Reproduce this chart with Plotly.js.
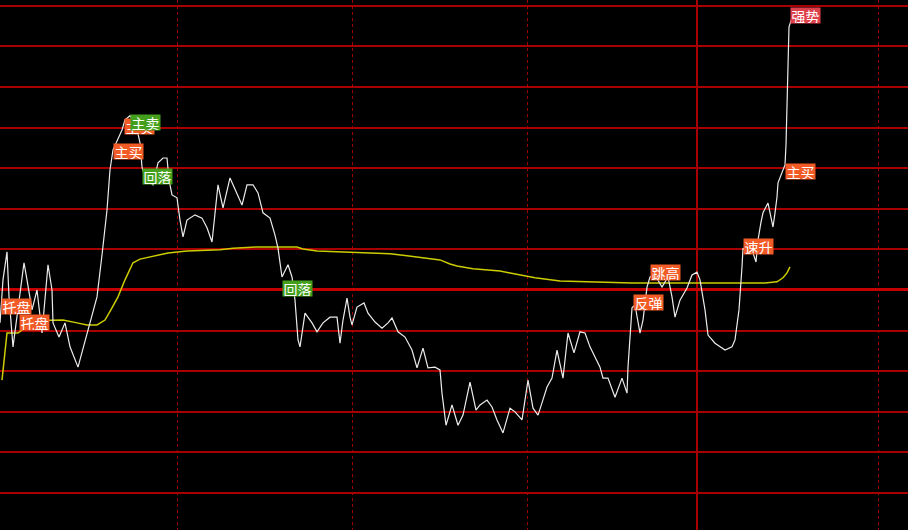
<!DOCTYPE html>
<html>
<head>
<meta charset="utf-8">
<script src="https://cdn.plot.ly/plotly-3.0.1.min.js"></script>
<style>
  html, body { margin: 0; padding: 0; background: #000; overflow: hidden; }
  #chart { width: 908px; height: 530px; }
</style>
</head>
<body>
<div id="chart"></div>
<script>
// ---- price line (time slot, % change vs previous close) ----
const priceT = [0,3,7,9,13,17,20,24,27,32,37,42,48,52,53,59,65,70,78,87,97,102,107,110,113,122,125,130,136,140,142,145,153,158,163,167,169,172,177,180,183,187,195,202,207,212,215,218,223,230,242,247,253,258,263,270,275,278,282,285,288,292,295,298,300,305,312,317,323,330,337,340,343,347,350,352,357,364,368,375,382,388,392,398,405,412,417,423,428,435,440,442,446,452,458,463,470,476,480,487,492,497,503,510,515,522,528,533,538,542,547,552,557,563,568,574,580,585,590,600,603,608,615,622,627,628,632,635,640,643,647,650,655,662,665,668,672,675,680,687,692,697,700,705,708,715,725,732,735,739,742,743,748,753,756,758,761,763,768,770,773,775,777,778,782,785,786,787,788,789,792];
const priceChg = [-0.81,0.25,0.94,-0.17,-1.40,-0.67,-0.17,0.67,0.25,-0.49,0.00,-1.06,0.62,0.00,-0.81,-1.16,-0.81,-1.40,-1.90,-1.06,-0.17,0.86,1.97,2.96,3.45,3.94,4.19,4.29,4.06,3.62,3.03,2.76,2.59,3.13,3.25,3.25,2.71,2.34,2.27,1.72,1.31,1.72,1.85,1.77,1.53,1.18,1.90,2.59,2.02,2.76,2.09,2.59,2.59,2.39,1.90,1.77,1.35,1.03,0.32,0.49,0.62,0.32,-0.25,-1.23,-1.40,-0.57,-0.81,-1.03,-0.81,-0.67,-0.67,-1.31,-0.74,-0.20,-0.67,-0.86,-0.42,-0.32,-0.57,-0.79,-0.94,-0.81,-0.69,-1.03,-1.16,-1.48,-1.92,-1.43,-1.92,-1.90,-1.97,-2.54,-3.33,-2.83,-3.33,-3.08,-2.27,-2.96,-2.83,-2.71,-2.88,-3.20,-3.52,-2.91,-3.00,-3.20,-2.22,-2.91,-3.08,-2.78,-2.39,-2.17,-1.48,-2.17,-1.06,-1.55,-1.03,-1.06,-1.40,-1.90,-2.17,-2.17,-2.64,-2.17,-2.54,-1.90,-0.44,-0.37,-1.06,-0.74,0.07,0.32,0.37,0.07,0.20,0.32,-0.17,-0.67,-0.25,0.05,0.37,0.44,0.25,-0.49,-1.11,-1.31,-1.48,-1.40,-1.23,-0.49,0.57,1.03,0.94,0.91,0.69,1.23,1.67,1.90,2.14,1.90,1.55,1.90,2.29,2.64,2.88,3.08,3.57,4.51,5.49,6.48,6.70];

// ---- average price line ----
const avgT = [2,5,7,18,22,23,47,63,77,87,97,105,112,118,125,133,140,150,157,168,187,220,233,257,297,303,317,340,357,390,407,427,440,450,457,473,500,510,535,560,602,632,700,765,777,783,787,790];
const avgChg = [-2.22,-1.48,-1.06,-1.06,-0.99,-0.76,-0.74,-0.74,-0.81,-0.86,-0.86,-0.74,-0.44,-0.17,0.25,0.67,0.76,0.81,0.86,0.91,0.96,0.99,1.03,1.06,1.06,1.01,0.96,0.94,0.91,0.89,0.84,0.79,0.74,0.64,0.59,0.52,0.47,0.42,0.30,0.22,0.20,0.17,0.17,0.17,0.20,0.30,0.42,0.57];

// ---- signal labels ----
const labelText = ['托盘','托盘','主买','主卖','主买','回落','回落','跳高','反弹','强势','主买','速升'];
const labelT    = [1,19,124,130,113,142,282,650,633,790,785,743];
const labelChg  = [-0.20,-0.59,4.24,4.33,3.62,3.00,0.25,0.64,-0.10,6.97,3.13,1.28];
const labelKind = ['buy','buy','buy','sell','buy','sell','sell','buy','buy','strong','buy','buy'];

// ---- grid ----
const gridT = [177,352,527,878];
const sessionBreakT = [697];
const gridChg = [-5,-4,-3,-2,-1,0,1,2,3,4,5,6,7];

const kindColor = { buy: '#f25a26', sell: '#44a01c', strong: '#e0404c' };

const traces = [
  { x: avgT, y: avgChg, type: 'scatter', mode: 'lines',
    line: { color: '#cccc00', width: 1.5 }, hoverinfo: 'skip' },
  { x: priceT, y: priceChg, type: 'scatter', mode: 'lines',
    line: { color: '#ececec', width: 1.2 }, hoverinfo: 'skip' }
];

const annotations = labelText.map((t, i) => ({
  x: labelT[i], y: labelChg[i], xref: 'x', yref: 'y',
  xanchor: 'left', yanchor: 'top', showarrow: false,
  text: t, width: 29, height: 15, borderpad: 0,
  bgcolor: kindColor[labelKind[i]],
  font: { family: 'Noto Sans CJK SC', size: 14, color: '#ffffff' }
}));

const shapes = sessionBreakT.map(v => ({
  type: 'line', xref: 'x', yref: 'paper', x0: v, x1: v, y0: 0, y1: 1,
  line: { color: '#a80000', width: 2 }, layer: 'below'
}));

const layout = {
  width: 908, height: 530,
  margin: { l: 0, r: 0, t: 0, b: 0, pad: 0 },
  paper_bgcolor: '#000000', plot_bgcolor: '#000000',
  showlegend: false,
  xaxis: { range: [0, 908], showticklabels: false, zeroline: false,
    showgrid: true, tickvals: gridT, griddash: 'dot', gridcolor: '#a00000', gridwidth: 1,
    fixedrange: true },
  yaxis: { range: [-5.91, 7.14], showticklabels: false,
    showgrid: true, tickvals: gridChg, gridcolor: '#a80000', gridwidth: 2,
    zeroline: true, zerolinecolor: '#c40000', zerolinewidth: 3, fixedrange: true },
  annotations: annotations,
  shapes: shapes
};

Plotly.newPlot('chart', traces, layout, { staticPlot: true, displayModeBar: false });
</script>
</body>
</html>
